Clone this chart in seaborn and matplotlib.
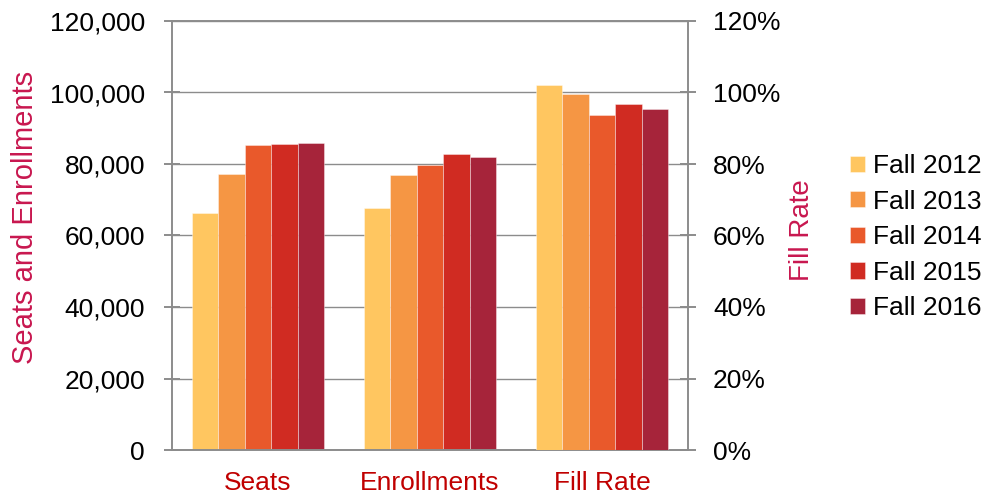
import numpy as np
import pandas as pd
import matplotlib
matplotlib.use("Agg")
import matplotlib.pyplot as plt
import matplotlib.ticker as mticker
import seaborn as sns

# ===============================
# DATA
# ===============================
categories = ["Seats", "Enrollments", "Fill Rate"]
terms = ["Fall 2012", "Fall 2013", "Fall 2014", "Fall 2015", "Fall 2016"]
seats = [66300, 77300, 85200, 85700, 85800]
enrollments = [67700, 77000, 79700, 82900, 81900]
fill_rate = [102.1, 99.6, 93.6, 96.7, 95.5]

colors = ["#FFC660", "#F59644", "#E9592B", "#D02B22", "#A6243A"]
LABEL_RED = "#C8174F"
TICK_RED = "#C00000"
GRAY = "#8C8C8C"

counts = pd.DataFrame({
    "measure": ["Seats"] * len(terms) + ["Enrollments"] * len(terms),
    "term": terms + terms,
    "value": seats + enrollments,
})
rates = pd.DataFrame({
    "measure": ["Fill Rate"] * len(terms),
    "term": terms,
    "value": fill_rate,
})

# ===============================
# STYLE
# ===============================
sns.set_style("white")
plt.rcParams["font.family"] = ["Liberation Sans", "DejaVu Sans"]
plt.rcParams["text.color"] = "black"
FS = 19

fig = plt.figure(figsize=(9.86, 4.98), dpi=100)
ax = fig.add_axes([172 / 986, 48 / 498, 516 / 986, 429 / 498])
ax2 = ax.twinx()

bar_kw = dict(x="measure", y="value", hue="term", order=categories,
              hue_order=terms, palette=colors, width=0.77, gap=0,
              edgecolor=(1, 1, 1, 0.45), linewidth=0.6, saturation=1)

sns.barplot(data=counts, ax=ax, **bar_kw)
sns.barplot(data=rates, ax=ax2, legend=False, **bar_kw)

handles, labels = ax.get_legend_handles_labels()
ax.get_legend().remove()

# ===============================
# AXES
# ===============================
ax.set_ylim(0, 120000)
ax2.set_ylim(0, 120)
ax.set_xlim(-0.5, 2.5)

ax.yaxis.set_major_locator(mticker.MultipleLocator(20000))
ax.yaxis.set_major_formatter(mticker.StrMethodFormatter("{x:,.0f}"))
ax2.yaxis.set_major_locator(mticker.MultipleLocator(20))
ax2.yaxis.set_major_formatter(mticker.PercentFormatter(decimals=0))

ax.set_xticks(range(len(categories)))
ax.set_xticklabels(categories)
ax.set_xticks([-0.5, 0.5, 1.5, 2.5], minor=True)
ax.tick_params(axis="x", which="major", length=0, pad=15,
               labelsize=FS, labelcolor=TICK_RED)
ax.tick_params(axis="x", which="minor", length=8, width=1.4,
               direction="out", color=GRAY)

ax.tick_params(axis="y", length=12, width=1.4, direction="inout",
               color=GRAY, labelsize=FS, labelcolor="black", pad=13.5,
               left=True)
ax2.tick_params(axis="y", length=12, width=1.4, direction="inout",
                color=GRAY, labelsize=FS, labelcolor="black", pad=12,
                right=True)

ax.yaxis.grid(True, color=GRAY, linewidth=1.0)
ax.xaxis.grid(False)
ax.set_axisbelow(True)

for side in ["left", "bottom", "top"]:
    ax.spines[side].set_color(GRAY)
    ax.spines[side].set_linewidth(1.4)
ax.spines["right"].set_visible(False)
for side in ["left", "bottom", "top"]:
    ax2.spines[side].set_visible(False)
ax2.spines["right"].set_color(GRAY)
ax2.spines["right"].set_linewidth(1.4)

ax.set_xlabel("")
ax.set_ylabel("")
ax2.set_xlabel("")
ax2.set_ylabel("")

fig.text(25 / 986, 1 - 217 / 498, "Seats and Enrollments", rotation=90,
         ha="center", va="center", fontsize=21, color=LABEL_RED)
fig.text(802 / 986, 1 - 230 / 498, "Fill Rate", rotation=90,
         ha="center", va="center", fontsize=20, color=LABEL_RED)

fig.legend(handles, labels, loc="upper left",
           bbox_to_anchor=(850 / 986, 1 - 154 / 498),
           frameon=False, fontsize=FS, handlelength=0.57, handleheight=0.57,
           handletextpad=0.3, labelspacing=0.44, borderpad=0, borderaxespad=0)

fig.savefig("out.png", dpi=100)
